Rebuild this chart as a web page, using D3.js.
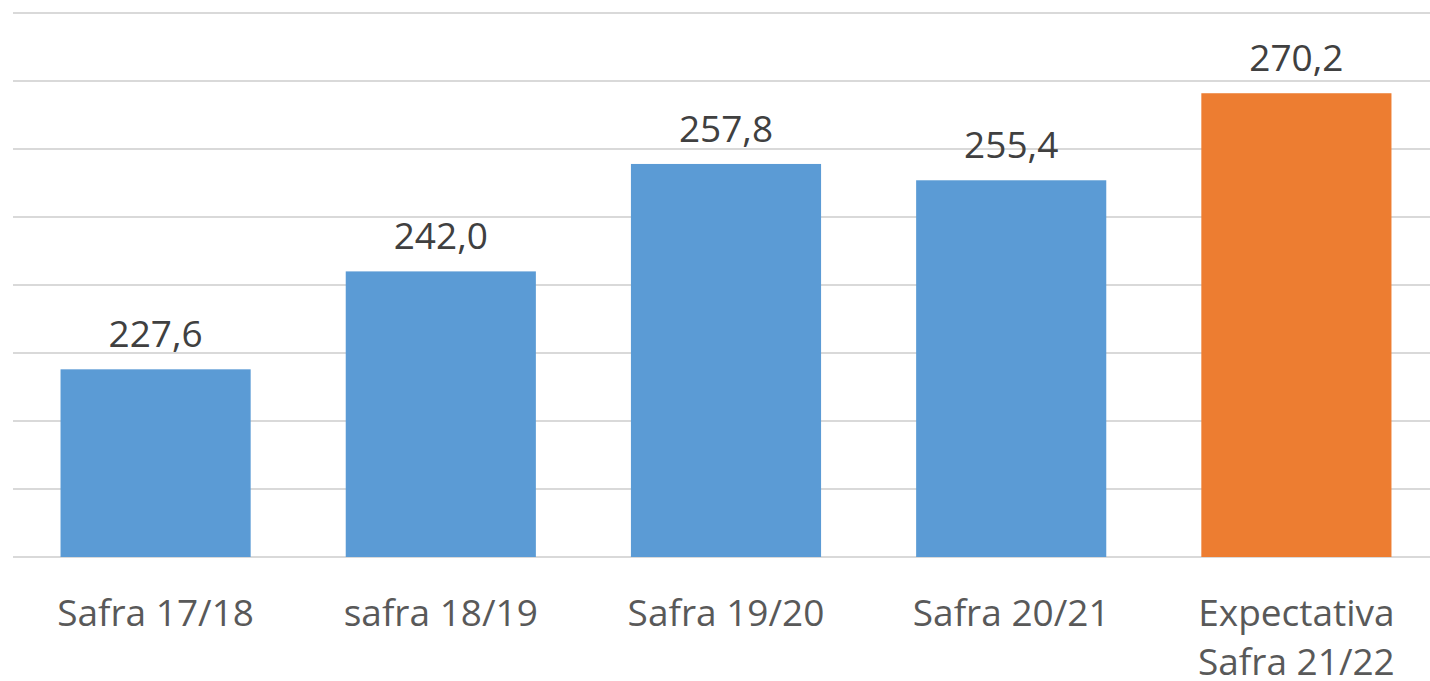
<!DOCTYPE html>
<html>
<head>
<meta charset="utf-8">
<script src="https://cdn.jsdelivr.net/npm/d3@7"></script>
<style>
  body { margin: 0; background: #fff; }
  svg { display: block; font-family: "Open Sans", sans-serif; }
</style>
</head>
<body>
<svg width="1430" height="681"></svg>
<script>
// Data
var categories = ["Safra 17/18", "safra 18/19", "Safra 19/20", "Safra 20/21", "Expectativa\nSafra 21/22"];
// bar heights as drawn (last bar is drawn at ~268, though its label says 270,2)
var values = [227.6, 242.0, 257.8, 255.4, 268.2];
var valueLabels = ["227,6", "242,0", "257,8", "255,4", "270,2"];
var barColors = ["#5B9BD5", "#5B9BD5", "#5B9BD5", "#5B9BD5", "#ED7D31"];
var yTicks = [200, 210, 220, 230, 240, 250, 260, 270, 280];

var svg = d3.select("svg");

// plot area (don't call it "top", that's window.top)
var plotLeft = 13, plotRight = 1439, plotTop = 13, plotBottom = 557;

var x = d3.scaleBand()
    .domain(categories)
    .range([plotLeft, plotRight])
    .paddingInner(1 / 3)
    .paddingOuter(1 / 6);

var y = d3.scaleLinear()
    .domain([200, 280])
    .range([plotBottom, plotTop]);

// gridlines
svg.append("g")
  .selectAll("line")
  .data(yTicks)
  .enter().append("line")
    .attr("x1", plotLeft)
    .attr("x2", plotRight)
    .attr("y1", function(d) { return y(d); })
    .attr("y2", function(d) { return y(d); })
    .attr("stroke", "#D9D9D9")
    .attr("stroke-width", 2);

// bars
svg.append("g")
  .selectAll("rect")
  .data(values)
  .enter().append("rect")
    .attr("x", function(d, i) { return x(categories[i]); })
    .attr("y", function(d) { return y(d); })
    .attr("width", x.bandwidth())
    .attr("height", function(d) { return y(200) - y(d); })
    .attr("fill", function(d, i) { return barColors[i]; });

// value labels
svg.append("g")
  .selectAll("text")
  .data(values)
  .enter().append("text")
    .attr("x", function(d, i) { return x(categories[i]) + x.bandwidth() / 2; })
    .attr("y", function(d) { return y(d) - 22; })
    .attr("text-anchor", "middle")
    .attr("font-size", 37)
    .attr("fill", "#404040")
    .text(function(d, i) { return valueLabels[i]; });

// category labels (x axis)
var cat = svg.append("g")
  .selectAll("text")
  .data(categories)
  .enter().append("text")
    .attr("x", function(d) { return x(d) + x.bandwidth() / 2; })
    .attr("y", 626)
    .attr("text-anchor", "middle")
    .attr("font-size", 37)
    .attr("fill", "#595959");

cat.each(function(d) {
  var t = d3.select(this);
  d.split("\n").forEach(function(line, i) {
    t.append("tspan")
      .attr("x", t.attr("x"))
      .attr("dy", i === 0 ? 0 : 49)
      .text(line);
  });
});
</script>
</body>
</html>
